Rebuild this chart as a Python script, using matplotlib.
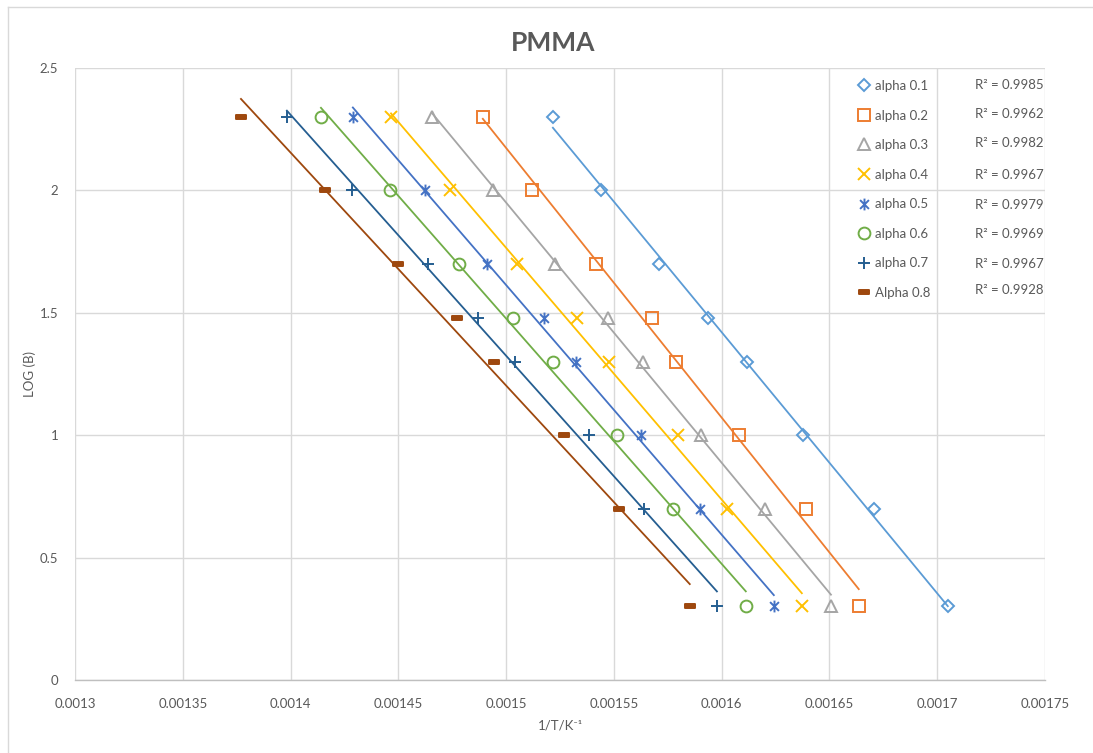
import numpy as np
import matplotlib
matplotlib.use('Agg')
import matplotlib.pyplot as plt
from matplotlib.path import Path
from matplotlib.lines import Line2D

plt.rcParams['font.family'] = ['Lato', 'DejaVu Sans']

# ---- data ----
log_b = [0.301, 0.699, 1.0, 1.301, 1.477, 1.699, 2.0, 2.301]
inv_t_a01 = [0.0017049, 0.0016706, 0.0016377, 0.0016117, 0.0015936, 0.0015709, 0.0015440, 0.0015217]
inv_t_a02 = [0.0016636, 0.0016391, 0.0016080, 0.0015788, 0.0015676, 0.0015417, 0.0015120, 0.0014892]
inv_t_a03 = [0.0016507, 0.0016200, 0.0015904, 0.0015635, 0.0015472, 0.0015226, 0.0014939, 0.0014656]
inv_t_a04 = [0.0016372, 0.0016024, 0.0015797, 0.0015477, 0.0015328, 0.0015050, 0.0014739, 0.0014466]
inv_t_a05 = [0.0016242, 0.0015899, 0.0015625, 0.0015324, 0.0015175, 0.0014911, 0.0014623, 0.0014289]
inv_t_a06 = [0.0016112, 0.0015774, 0.0015514, 0.0015217, 0.0015032, 0.0014781, 0.0014461, 0.0014141]
inv_t_a07 = [0.0015978, 0.0015639, 0.0015384, 0.0015041, 0.0014869, 0.0014637, 0.0014285, 0.0013983]
inv_t_a08 = [0.0015852, 0.0015523, 0.0015268, 0.0014943, 0.0014772, 0.0014498, 0.0014160, 0.0013770]

series_labels = ['alpha 0.1', 'alpha 0.2', 'alpha 0.3', 'alpha 0.4',
                 'alpha 0.5', 'alpha 0.6', 'alpha 0.7', 'Alpha 0.8']
r2_labels = ['R² = 0.9985', 'R² = 0.9962', 'R² = 0.9982', 'R² = 0.9967',
             'R² = 0.9979', 'R² = 0.9969', 'R² = 0.9967', 'R² = 0.9928']
x_ticks = [0.0013, 0.00135, 0.0014, 0.00145, 0.0015, 0.00155, 0.0016, 0.00165, 0.0017, 0.00175]
x_tick_labels = ['0.0013', '0.00135', '0.0014', '0.00145', '0.0015', '0.00155',
                 '0.0016', '0.00165', '0.0017', '0.00175']
y_ticks = [0, 0.5, 1, 1.5, 2, 2.5]
y_tick_labels = ['0', '0.5', '1', '1.5', '2', '2.5']

all_x = [inv_t_a01, inv_t_a02, inv_t_a03, inv_t_a04,
         inv_t_a05, inv_t_a06, inv_t_a07, inv_t_a08]

# ---- styles ----
colors = ['#5B9BD5', '#ED7D31', '#A5A5A5', '#FFC000',
          '#4472C4', '#70AD47', '#255E91', '#9E480E']
star = Path([(0, -1), (0, 1), (-0.75, -0.75), (0.75, 0.75), (-0.75, 0.75), (0.75, -0.75)],
            [Path.MOVETO, Path.LINETO, Path.MOVETO, Path.LINETO, Path.MOVETO, Path.LINETO])
dash = Path([(-1, -0.45), (1, -0.45), (1, 0.45), (-1, 0.45), (-1, -0.45)],
            [Path.MOVETO, Path.LINETO, Path.LINETO, Path.LINETO, Path.CLOSEPOLY])
markers = ['D', 's', '^', 'x', star, 'o', '+', dash]
msizes = [6, 9, 8.5, 8, 8.5, 8.5, 9, 7]
filled = [False, False, False, False, False, False, False, True]

text_col = '#595959'
grid_col = '#D9D9D9'

fig = plt.figure(figsize=(10.93, 7.53), dpi=100)
ax = fig.add_axes([75 / 1093, 1 - 680 / 753, 970 / 1093, 612 / 753])

handles = []
for xs, lab, c, m, ms, f in zip(all_x, series_labels, colors, markers, msizes, filled):
    xs = np.array(xs)
    ys = np.array(log_b)
    ln, = ax.plot(xs, ys, linestyle='none', marker=m, markersize=ms,
                  markerfacecolor=(c if f else 'none'), markeredgecolor=c,
                  markeredgewidth=1.4, label=lab, zorder=3)
    handles.append(ln)
    k, b = np.polyfit(xs, ys, 1)
    xl = np.array([xs.min(), xs.max()])
    ax.plot(xl, k * xl + b, color=c, linewidth=1.3, zorder=2)

ax.set_xlim(0.0013, 0.00175)
ax.set_ylim(0, 2.5)
ax.set_xticks(x_ticks)
ax.set_xticklabels(x_tick_labels)
ax.set_yticks(y_ticks)
ax.set_yticklabels(y_tick_labels)
ax.tick_params(axis='both', length=0, labelsize=9.5, labelcolor=text_col)
ax.tick_params(axis='x', pad=13)
ax.tick_params(axis='y', pad=12)
ax.grid(True, color=grid_col, linewidth=1.0)
ax.set_axisbelow(True)
for s in ['left', 'right', 'top']:
    ax.spines[s].set_visible(False)
ax.spines['bottom'].set_color('#BFBFBF')
ax.spines['bottom'].set_linewidth(1.0)

ax.set_title('PMMA', fontsize=19, fontweight='bold', color=text_col, pad=12)
ax.title.set_x((553 - 75) / 970)
ax.set_xlabel('1/T/K⁻¹', fontsize=9.5, color=text_col, labelpad=7)
ax.set_ylabel('LOG (B)', fontsize=9.5, color=text_col, labelpad=3)

leg = ax.legend(handles=handles, loc='upper left', bbox_to_anchor=((859 - 75) / 970, (680 - 80) / 612),
                frameon=False, fontsize=9.5, labelspacing=1.33, handlelength=0.8,
                handletextpad=0.4, borderaxespad=0, borderpad=0)
for t in leg.get_texts():
    t.set_color(text_col)

r2_y = [85, 114, 143, 175, 205, 234, 264, 290]
for lab, py in zip(r2_labels, r2_y):
    ax.text((975 - 75) / 970, (680 - py) / 612, lab, transform=ax.transAxes,
            fontsize=9.5, color=text_col, va='center', ha='left')

# chart area border
fig.add_artist(Line2D([8 / 1093, 8 / 1093], [0, 1 - 7 / 753], color='#D9D9D9', linewidth=1.0))
fig.add_artist(Line2D([8 / 1093, 1], [1 - 7 / 753, 1 - 7 / 753], color='#D9D9D9', linewidth=1.0))

fig.savefig('out.png', dpi=100)
